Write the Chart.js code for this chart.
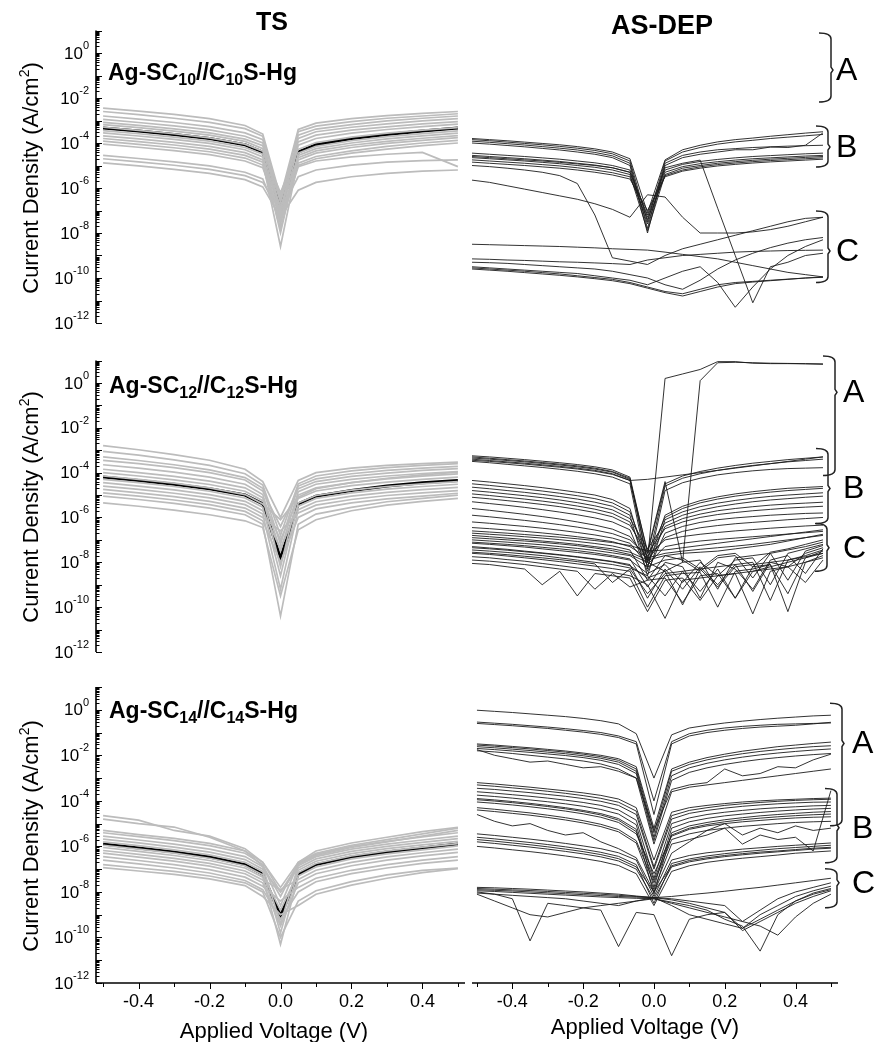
<!DOCTYPE html>
<html>
<head>
<meta charset="utf-8">
<script src="https://cdn.jsdelivr.net/npm/chart.js@4/dist/chart.umd.min.js"></script>
<style>
  html, body { margin: 0; padding: 0; background: #fff; }
  #wrap { position: relative; width: 875px; height: 1042px; overflow: hidden; background: #fff; font-family: "Liberation Sans", Arial, sans-serif; color: #000; }
  canvas { position: absolute; left: 0; top: 0; }
  .txt { position: absolute; white-space: nowrap; line-height: 1; }
  .head { font-weight: bold; font-size: 25px; transform: translateX(-50%); }
  .title { font-weight: bold; font-size: 23px; }
  .title sub { font-size: 16px; vertical-align: -5px; line-height: 0; }
  .ytitle { font-size: 22px; transform: translate(-50%, -50%) rotate(-90deg); }
  .ytitle sup { font-size: 14px; vertical-align: 9px; line-height: 0; }
  .xtitle { font-size: 22px; transform: translateX(-50%); }
</style>
</head>
<body>
<div id="wrap">
  <canvas id="c10ts" width="875" height="1042"></canvas>
  <canvas id="c10dep" width="875" height="1042"></canvas>
  <canvas id="c12ts" width="875" height="1042"></canvas>
  <canvas id="c12dep" width="875" height="1042"></canvas>
  <canvas id="c14ts" width="875" height="1042"></canvas>
  <canvas id="c14dep" width="875" height="1042"></canvas>

  <div class="txt head" style="left:272px; top:9px">TS</div>
  <div class="txt head" style="left:662px; top:12px; font-size:27px">AS-DEP</div>

  <div class="txt title" style="left:108px; top:61px">Ag-SC<sub>10</sub>//C<sub>10</sub>S-Hg</div>
  <div class="txt title" style="left:109px; top:374px">Ag-SC<sub>12</sub>//C<sub>12</sub>S-Hg</div>
  <div class="txt title" style="left:109px; top:699px">Ag-SC<sub>14</sub>//C<sub>14</sub>S-Hg</div>

  <div class="txt ytitle" style="left:31px; top:178px">Current Density (A/cm<sup>2</sup>)</div>
  <div class="txt ytitle" style="left:31px; top:507px">Current Density (A/cm<sup>2</sup>)</div>
  <div class="txt ytitle" style="left:31px; top:836px">Current Density (A/cm<sup>2</sup>)</div>

  <div class="txt xtitle" style="left:274px; top:1020px">Applied Voltage (V)</div>
  <div class="txt xtitle" style="left:645px; top:1016px">Applied Voltage (V)</div>
</div>

<script>
// bias points (V)
const voltsTS = [-0.5, -0.4, -0.3, -0.2, -0.1, -0.05, 0, 0.05, 0.1, 0.2, 0.3, 0.4, 0.5];
const voltsDep = [-0.5, -0.45, -0.4, -0.35, -0.3, -0.25, -0.2, -0.15, -0.1, -0.05, 0,
  0.05, 0.1, 0.15, 0.2, 0.25, 0.3, 0.35, 0.4, 0.45, 0.5];

// all current densities below are log10(J / A cm^-2)
const labelExps = [-12, -10, -8, -6, -4, -2, 0];
const voltTicks = [-0.5, -0.4, -0.3, -0.2, -0.1, 0, 0.1, 0.2, 0.3, 0.4, 0.5];
const voltLabels = [-0.4, -0.2, 0, 0.2, 0.4];
const braceLabels = ["A", "B", "C"];

// ---- C10, template stripped
const c10TsMean = [-3.33, -3.47, -3.62, -3.8, -4.08, -4.4, -6.9, -4.4, -4.08, -3.8, -3.62, -3.47, -3.33];
const c10TsRuns = [
  [-2.45, -2.58, -2.73, -2.92, -3.22, -3.6, -6.4, -3.4, -3.12, -2.92, -2.78, -2.68, -2.6],
  [-2.6, -2.74, -2.9, -3.08, -3.36, -3.7, -6.6, -3.5, -3.25, -3.05, -2.9, -2.8, -2.7],
  [-2.8, -2.94, -3.09, -3.27, -3.55, -3.85, -7.0, -3.65, -3.38, -3.18, -3.02, -2.9, -2.8],
  [-2.95, -3.09, -3.24, -3.42, -3.7, -4.0, -7.2, -3.8, -3.5, -3.3, -3.15, -3.02, -2.92],
  [-3.08, -3.22, -3.37, -3.55, -3.83, -4.12, -6.6, -3.95, -3.65, -3.43, -3.28, -3.15, -3.05],
  [-3.18, -3.32, -3.47, -3.65, -3.93, -4.25, -7.4, -4.1, -3.8, -3.56, -3.4, -3.27, -3.16],
  [-3.3, -3.44, -3.59, -3.77, -4.05, -4.36, -6.2, -4.28, -3.98, -3.74, -3.56, -3.43, -3.32],
  [-3.45, -3.59, -3.74, -3.92, -4.2, -4.5, -7.6, -4.45, -4.15, -3.9, -3.72, -3.58, -3.46],
  [-3.55, -3.69, -3.84, -4.02, -4.3, -4.62, -8.0, -4.55, -4.25, -4.0, -3.82, -3.68, -3.56],
  [-3.68, -3.82, -3.97, -4.15, -4.43, -4.75, -6.8, -4.65, -4.35, -4.1, -3.93, -3.79, -3.67],
  [-3.8, -3.94, -4.09, -4.27, -4.55, -4.85, -8.6, -4.75, -4.45, -4.2, -4.02, -3.88, -3.76],
  [-3.92, -4.06, -4.21, -4.39, -4.67, -4.98, -7.8, -4.9, -4.6, -4.35, -4.15, -4.0, -3.88],
  [-4.05, -4.19, -4.34, -4.52, -4.8, -5.1, -7.2, -5.0, -4.7, -4.45, -4.27, -4.12, -4.0],
  [-4.55, -4.69, -4.84, -5.02, -5.3, -5.6, -7.5, -5.05, -4.8, -4.62, -4.5, -4.42, -5.05],
  [-4.7, -4.84, -4.99, -5.17, -5.45, -5.75, -7.0, -5.5, -5.2, -4.98, -4.85, -4.78, -4.75],
  [-4.88, -5.02, -5.17, -5.35, -5.63, -5.95, -7.3, -6.1, -5.75, -5.5, -5.35, -5.25, -5.2],
];

// ---- C12, template stripped
const c12TsMean = [-4.2, -4.35, -4.52, -4.72, -5.0, -5.39, -7.8, -5.39, -5.05, -4.8, -4.6, -4.45, -4.35];
const c12TsRuns = [
  [-2.8, -2.98, -3.2, -3.45, -3.85, -4.4, -6.0, -4.35, -4.0, -3.8, -3.68, -3.6, -3.53],
  [-3.05, -3.22, -3.43, -3.68, -4.05, -4.55, -6.8, -4.5, -4.15, -3.92, -3.78, -3.68, -3.6],
  [-3.3, -3.46, -3.65, -3.88, -4.22, -4.7, -7.2, -4.6, -4.28, -4.05, -3.9, -3.8, -3.72],
  [-3.45, -3.6, -3.78, -4.0, -4.33, -4.82, -6.4, -4.72, -4.4, -4.17, -4.02, -3.9, -3.82],
  [-3.65, -3.8, -3.98, -4.2, -4.52, -4.98, -7.5, -4.85, -4.52, -4.3, -4.15, -4.04, -3.95],
  [-3.85, -4.0, -4.17, -4.38, -4.68, -5.12, -8.2, -5.0, -4.68, -4.45, -4.28, -4.16, -4.06],
  [-4.0, -4.15, -4.32, -4.53, -4.83, -5.25, -7.0, -5.15, -4.82, -4.58, -4.42, -4.3, -4.2],
  [-4.15, -4.3, -4.47, -4.68, -4.98, -5.4, -6.1, -5.1, -4.72, -4.45, -4.25, -4.1, -3.98],
  [-4.3, -4.45, -4.62, -4.83, -5.13, -5.55, -8.6, -5.35, -5.02, -4.78, -4.62, -4.5, -4.4],
  [-4.45, -4.6, -4.77, -4.98, -5.28, -5.7, -7.4, -5.5, -5.15, -4.9, -4.74, -4.62, -4.52],
  [-4.6, -4.75, -4.92, -5.13, -5.43, -5.85, -9.2, -5.65, -5.3, -5.05, -4.88, -4.76, -4.66],
  [-4.75, -4.9, -5.07, -5.28, -5.58, -6.0, -6.6, -5.8, -5.45, -5.2, -5.02, -4.9, -4.8],
  [-4.9, -5.05, -5.22, -5.43, -5.73, -6.15, -8.0, -6.0, -5.62, -5.35, -5.17, -5.05, -4.92],
  [-5.05, -5.2, -5.37, -5.58, -5.88, -6.3, -10.4, -6.3, -5.85, -5.55, -5.3, -5.15, -5.0],
  [-5.35, -5.5, -5.67, -5.88, -6.15, -6.45, -9.5, -6.55, -6.1, -5.7, -5.45, -5.28, -5.15],
];

// ---- C14, template stripped
const c14TsMean = [-5.9, -6.07, -6.25, -6.47, -6.8, -7.22, -9.05, -7.22, -6.8, -6.47, -6.25, -6.07, -5.9];
const c14TsRuns = [
  [-4.65, -4.85, -5.3, -5.55, -6.1, -6.7, -8.0, -6.8, -6.4, -6.05, -5.8, -5.55, -5.3],
  [-4.8, -5.0, -5.15, -5.6, -6.2, -6.85, -8.2, -6.7, -6.3, -5.95, -5.7, -5.45, -5.2],
  [-5.3, -5.48, -5.65, -5.87, -6.2, -6.7, -7.8, -6.7, -6.2, -5.85, -5.6, -5.35, -5.16],
  [-5.4, -5.57, -5.75, -5.97, -6.3, -6.8, -8.6, -6.75, -6.35, -6.0, -5.78, -5.58, -5.4],
  [-5.55, -5.72, -5.9, -6.12, -6.45, -6.9, -9.4, -6.85, -6.45, -6.12, -5.9, -5.72, -5.55],
  [-5.68, -5.85, -6.03, -6.25, -6.58, -7.0, -8.0, -6.95, -6.55, -6.22, -6.0, -5.82, -5.66],
  [-5.8, -5.97, -6.15, -6.37, -6.7, -7.1, -9.8, -7.05, -6.65, -6.32, -6.1, -5.93, -5.78],
  [-5.95, -6.12, -6.3, -6.52, -6.85, -7.25, -8.8, -7.15, -6.75, -6.42, -6.2, -6.03, -5.88],
  [-6.05, -6.22, -6.4, -6.62, -6.95, -7.35, -10.3, -7.3, -6.9, -6.55, -6.33, -6.15, -5.98],
  [-6.18, -6.35, -6.53, -6.75, -7.08, -7.48, -7.9, -7.45, -7.05, -6.7, -6.46, -6.28, -6.12],
  [-6.3, -6.47, -6.65, -6.87, -7.2, -7.6, -9.5, -7.6, -7.2, -6.85, -6.6, -6.42, -6.26],
  [-6.45, -6.62, -6.8, -7.02, -7.35, -7.75, -8.4, -7.8, -7.4, -7.05, -6.8, -6.6, -6.45],
  [-6.6, -6.77, -6.95, -7.17, -7.5, -7.9, -9.2, -8.0, -7.55, -7.2, -6.95, -6.75, -6.6],
  [-6.8, -6.95, -7.1, -7.3, -7.6, -8.0, -10.0, -8.4, -7.95, -7.55, -7.25, -7.05, -6.95],
  [-6.93, -7.08, -7.23, -7.43, -7.72, -8.2, -9.0, -8.6, -8.1, -7.7, -7.4, -7.15, -6.98],
];

// ---- C10, as deposited
const c10DepRuns = [
  [-3.8, -3.85, -3.9, -3.96, -4.02, -4.08, -4.16, -4.26, -4.4, -4.7, -7.1, -4.75, -4.3, -4.1, -3.95, -3.85, -3.78, -3.7, -3.63, -3.56, -3.5],
  [-3.85, -3.9, -3.96, -4.02, -4.08, -4.15, -4.23, -4.33, -4.48, -4.8, -7.5, -4.8, -4.4, -4.2, -4.05, -3.95, -3.88, -3.8, -3.74, -3.68, -3.62],
  [-3.92, -3.97, -4.03, -4.09, -4.16, -4.23, -4.31, -4.42, -4.57, -4.9, -7.8, -4.9, -4.55, -4.4, -4.3, -4.25, -4.2, -4.17, -4.14, -4.12, -4.1],
  [-4.0, -4.05, -4.11, -4.17, -4.24, -4.31, -4.4, -4.5, -4.65, -5.0, -8.0, -5.0, -4.65, -4.5, -4.4, -4.3, -4.3, -4.18, -4.2, -4.1, -3.55],
  [-4.45, -4.5, -4.55, -4.6, -4.66, -4.72, -4.8, -4.88, -5.0, -5.2, -7.3, -5.2, -4.95, -4.82, -4.73, -4.66, -4.6, -4.56, -4.52, -4.48, -4.45],
  [-4.55, -4.6, -4.65, -4.7, -4.76, -4.82, -4.9, -4.98, -5.1, -5.3, -7.6, -5.3, -5.05, -4.92, -4.83, -4.76, -4.7, -4.66, -4.62, -4.58, -4.55],
  [-4.65, -4.7, -4.75, -4.8, -4.86, -4.92, -5.0, -5.08, -5.2, -5.4, -7.9, -5.4, -5.12, -5.0, -4.9, -4.83, -4.77, -4.72, -4.68, -4.64, -4.6],
  [-4.75, -4.8, -4.85, -4.9, -4.96, -5.02, -5.1, -5.2, -5.32, -5.5, -7.4, -5.45, -5.2, -5.06, -4.96, -4.89, -4.83, -4.78, -4.74, -4.7, -4.66],
  [-4.85, -4.9, -4.95, -5.0, -5.06, -5.12, -5.2, -5.3, -5.42, -5.6, -7.0, -5.5, -5.25, -5.12, -5.02, -4.95, -4.89, -4.84, -4.8, -4.76, -4.72],
  [-4.6, -4.65, -4.7, -4.75, -4.8, -4.86, -4.93, -5.0, -5.1, -5.3, -7.2, -5.1, -4.9, -4.76, -6.9, -9.0, -11.1, -9.5, -9.3, -9.0, -8.9],
  [-5.0, -5.05, -5.12, -5.2, -5.3, -5.45, -5.8, -7.2, -9.1, -9.25, -9.4, -9.0, -8.7, -8.5, -8.3, -8.1, -7.9, -7.7, -7.5, -7.35, -7.3],
  [-5.65, -5.75, -5.9, -6.05, -6.2, -6.35, -6.5, -6.7, -6.95, -7.3, -6.3, -6.4, -7.3, -8.0, -8.0, -8.0, -7.95, -7.85, -7.7, -7.5, -7.3],
  [-8.5, -8.52, -8.54, -8.56, -8.58, -8.6, -8.63, -8.66, -8.7, -8.73, -8.76, -8.85, -8.95, -9.05, -9.15, -9.3, -9.45, -9.6, -9.75, -9.85, -9.95],
  [-9.15, -9.17, -9.2, -9.22, -9.25, -9.28, -9.3, -9.33, -9.36, -9.4, -9.2, -9.1, -9.0, -8.95, -8.9, -8.85, -8.82, -8.8, -8.78, -8.77, -8.76],
  [-9.55, -9.6, -9.65, -9.7, -9.76, -9.82, -9.9, -9.98, -10.06, -10.2, -10.4, -10.6, -10.7, -10.5, -10.3, -10.2, -10.15, -10.1, -10.05, -10.0, -9.95],
  [-9.6, -9.65, -9.7, -9.76, -9.82, -9.88, -9.95, -10.03, -10.12, -10.25, -10.45, -10.65, -10.8, -10.6, -10.4, -10.25, -10.18, -10.12, -10.06, -10.0, -9.97],
  [-9.3, -9.32, -9.35, -9.4, -9.45, -9.5, -9.55, -9.6, -9.7, -9.85, -10.0, -10.3, -10.5, -10.1, -9.6, -9.2, -8.9, -8.65, -8.45, -8.3, -8.2],
  [-9.5, -9.55, -9.6, -9.65, -9.7, -9.75, -9.8, -9.9, -10.0, -10.1, -10.3, -10.0, -9.7, -9.5, -10.2, -11.3, -10.4, -9.6, -9.0, -8.6, -8.3],
];
const c10BraceTop = [0.89, -3.24, -7.02];
const c10BraceMid = [-0.76, -4.18, -8.8];
const c10BraceBottom = [-2.18, -5.07, -10.2];

// ---- C12, as deposited
const c12DepRuns = [
  [-3.3, -3.36, -3.42, -3.48, -3.55, -3.62, -3.7, -3.8, -3.95, -4.25, -7.9, 0.2, 0.4, 0.6, 0.95, 0.95, 0.88, 0.86, 0.86, 0.85, 0.83],
  [-3.4, -3.46, -3.52, -3.58, -3.65, -3.72, -3.8, -3.9, -4.05, -4.35, -7.5, -4.4, -8.0, 0.1, 0.9, 0.92, 0.9, 0.88, 0.87, 0.86, 0.85],
  [-3.25, -3.3, -3.36, -3.42, -3.49, -3.56, -3.64, -3.74, -3.88, -4.2, -7.6, -4.5, -4.15, -3.95, -3.8, -3.68, -3.58, -3.5, -3.42, -3.36, -3.3],
  [-3.35, -3.4, -3.46, -3.52, -3.59, -3.66, -3.74, -3.84, -3.98, -4.3, -8.0, -4.6, -4.25, -4.05, -3.9, -3.78, -3.68, -3.6, -3.52, -3.46, -3.4],
  [-3.45, -3.5, -3.56, -3.62, -3.69, -3.76, -3.84, -3.94, -4.08, -4.35, -4.3, -4.2, -4.1, -4.0, -3.9, -3.8, -3.7, -3.6, -3.5, -3.4, -3.3],
  [-3.5, -3.56, -3.63, -3.7, -3.77, -3.85, -3.94, -4.05, -4.2, -4.5, -8.3, -4.8, -4.45, -4.25, -4.1, -4.0, -3.92, -3.86, -3.82, -3.8, -3.78],
  [-4.35, -4.42, -4.5, -4.58, -4.67, -4.77, -4.88, -5.0, -5.2, -5.6, -8.2, -5.9, -5.5, -5.25, -5.08, -4.95, -4.85, -4.77, -4.7, -4.66, -4.62],
  [-4.5, -4.57, -4.65, -4.73, -4.82, -4.92, -5.03, -5.16, -5.35, -5.75, -7.8, -6.0, -5.6, -5.35, -5.18, -5.05, -4.95, -4.87, -4.8, -4.75, -4.7],
  [-4.65, -4.72, -4.8, -4.88, -4.97, -5.07, -5.18, -5.32, -5.5, -5.9, -8.6, -6.1, -5.75, -5.52, -5.36, -5.24, -5.14, -5.06, -5.0, -4.95, -4.9],
  [-4.8, -4.87, -4.95, -5.03, -5.12, -5.22, -5.34, -5.48, -5.66, -6.05, -7.4, -6.25, -5.9, -5.68, -5.52, -5.4, -5.3, -5.22, -5.16, -5.1, -5.05],
  [-4.95, -5.02, -5.1, -5.18, -5.27, -5.37, -5.49, -5.63, -5.82, -6.2, -8.0, -6.4, -6.05, -5.85, -5.7, -5.6, -5.52, -5.45, -5.4, -5.36, -5.32],
  [-5.1, -5.17, -5.25, -5.33, -5.42, -5.52, -5.64, -5.78, -5.97, -6.35, -7.6, -6.5, -6.2, -6.0, -5.87, -5.78, -5.7, -5.64, -5.58, -5.54, -5.5],
  [-5.3, -5.38, -5.46, -5.55, -5.65, -5.76, -5.88, -6.02, -6.2, -6.55, -8.4, -6.7, -6.4, -6.22, -6.1, -6.02, -5.96, -5.9, -5.86, -5.82, -5.8],
  [-5.6, -5.68, -5.77, -5.86, -5.96, -6.07, -6.2, -6.34, -6.52, -6.85, -7.9, -6.9, -6.62, -6.46, -6.36, -6.28, -6.22, -6.16, -6.1, -6.05, -6.0],
  [-5.9, -5.97, -6.05, -6.13, -6.22, -6.32, -6.43, -6.56, -6.72, -7.0, -7.7, -7.0, -6.85, -6.75, -6.67, -6.6, -6.54, -6.48, -6.43, -6.38, -6.34],
  [-6.2, -6.26, -6.33, -6.4, -6.48, -6.57, -6.67, -6.78, -6.92, -7.15, -8.1, -7.3, -7.15, -7.05, -6.98, -6.92, -6.86, -6.8, -6.74, -6.68, -6.62],
  [-6.45, -6.5, -6.56, -6.62, -6.69, -6.77, -6.86, -6.96, -7.08, -7.3, -7.8, -7.6, -7.5, -7.42, -7.35, -7.28, -7.2, -7.1, -7.0, -6.9, -6.8],
  [-6.6, -6.65, -6.7, -6.76, -6.82, -6.88, -6.95, -7.03, -7.12, -7.25, -7.5, -7.45, -7.35, -7.25, -7.15, -7.05, -6.95, -6.85, -6.75, -6.65, -6.55],
  [-6.7, -6.75, -6.8, -6.86, -6.92, -6.99, -7.07, -7.16, -7.27, -7.45, -8.8, -7.7, -7.9, -8.4, -7.8, -7.7, -8.7, -7.6, -7.45, -7.3, -7.1],
  [-6.8, -6.86, -6.92, -6.98, -7.05, -7.12, -7.2, -7.3, -7.4, -7.55, -7.9, -7.7, -7.6, -7.55, -7.5, -7.4, -7.3, -7.2, -7.05, -6.9, -6.75],
  [-6.9, -6.95, -7.0, -7.05, -7.11, -7.18, -7.26, -7.36, -7.48, -7.65, -8.0, -8.4, -8.0, -7.9, -9.2, -7.8, -7.7, -7.6, -8.8, -7.5, -7.25],
  [-7.0, -7.05, -7.1, -7.16, -7.22, -7.3, -7.38, -7.47, -7.58, -7.7, -8.2, -7.9, -7.8, -8.3, -7.7, -7.6, -8.2, -7.55, -7.4, -7.2, -7.0],
  [-7.1, -7.15, -7.2, -7.26, -7.33, -7.4, -7.48, -7.58, -7.7, -7.85, -9.1, -8.0, -8.2, -9.6, -8.0, -8.3, -9.2, -7.9, -7.7, -8.5, -7.4],
  [-7.15, -7.2, -7.26, -7.32, -7.4, -7.48, -7.56, -7.65, -7.76, -7.9, -8.5, -8.1, -8.9, -8.0, -8.6, -7.9, -7.8, -9.0, -7.6, -7.4, -7.2],
  [-7.3, -7.36, -7.42, -7.5, -7.58, -7.66, -7.75, -7.85, -7.96, -8.1, -9.6, -8.3, -9.2, -8.2, -9.0, -8.1, -9.3, -8.0, -8.2, -7.6, -7.35],
  [-7.35, -7.4, -7.46, -7.53, -7.6, -7.68, -7.77, -7.87, -7.98, -8.15, -8.7, -8.4, -9.9, -8.3, -8.2, -8.1, -8.0, -9.7, -7.9, -7.7, -7.45],
  [-7.45, -7.5, -7.56, -7.63, -7.7, -7.8, -7.9, -8.0, -8.1, -8.25, -8.6, -9.5, -8.4, -9.3, -8.3, -9.6, -8.2, -8.1, -9.4, -7.8, -7.5],
  [-7.55, -7.6, -7.66, -7.73, -7.8, -7.88, -7.97, -8.07, -8.9, -8.3, -9.4, -8.5, -8.4, -8.3, -9.1, -8.2, -8.1, -8.0, -7.9, -7.75, -7.6],
  [-7.6, -7.65, -7.72, -7.8, -7.88, -7.97, -8.07, -8.17, -8.28, -8.4, -10.0, -8.6, -8.5, -8.45, -10.0, -8.4, -8.3, -8.1, -10.2, -8.0, -7.7],
  [-7.75, -7.8, -7.88, -7.95, -8.05, -8.15, -8.25, -8.35, -8.45, -8.6, -9.0, -10.5, -8.8, -8.7, -8.6, -8.5, -8.4, -8.2, -8.0, -7.8, -7.6],
  [-7.9, -7.95, -8.02, -8.1, -8.2, -8.3, -8.4, -9.2, -8.5, -9.1, -8.8, -8.7, -9.8, -8.6, -8.5, -9.6, -8.4, -8.3, -8.2, -8.0, -7.8],
  [-8.05, -8.1, -8.2, -8.3, -9.0, -8.4, -9.5, -8.5, -8.6, -8.7, -10.2, -8.8, -8.7, -9.7, -8.6, -8.5, -10.3, -8.4, -8.2, -8.9, -7.9],
];
const c12BraceTop = [1.2, -2.92, -6.27];
const c12BraceMid = [-0.42, -4.71, -7.35];
const c12BraceBottom = [-4.13, -6.27, -8.4];

// ---- C14, as deposited
const c14DepRuns = [
  [-0.02, -0.07, -0.12, -0.18, -0.24, -0.3, -0.38, -0.48, -0.62, -1.05, -3.0, -1.1, -0.8, -0.68, -0.58, -0.5, -0.43, -0.37, -0.32, -0.27, -0.24],
  [-0.54, -0.59, -0.64, -0.7, -0.76, -0.83, -0.91, -1.0, -1.15, -1.4, -4.0, -1.4, -1.05, -0.9, -0.8, -0.73, -0.68, -0.64, -0.62, -0.6, -0.58],
  [-0.6, -0.65, -0.7, -0.76, -0.82, -0.9, -0.98, -1.08, -1.22, -1.5, -4.6, -1.5, -1.15, -1.0, -0.9, -0.82, -0.76, -0.72, -0.68, -0.62, -0.55],
  [-1.5, -1.55, -1.61, -1.67, -1.74, -1.81, -1.9, -2.0, -2.15, -2.5, -5.2, -2.6, -2.3, -2.1, -1.95, -1.82, -1.72, -1.62, -1.55, -1.48, -1.42],
  [-1.55, -1.6, -1.66, -1.72, -1.79, -1.86, -1.95, -2.06, -2.22, -2.6, -5.4, -2.7, -2.4, -2.2, -2.05, -1.93, -1.83, -1.75, -1.68, -1.62, -1.58],
  [-1.62, -1.67, -1.73, -1.79, -1.86, -1.93, -2.02, -2.13, -2.3, -2.7, -5.6, -2.9, -2.55, -2.35, -2.2, -2.08, -1.98, -1.9, -1.83, -1.77, -1.72],
  [-1.7, -1.75, -1.81, -1.87, -1.94, -2.01, -2.1, -2.22, -2.4, -2.8, -5.75, -3.1, -2.75, -2.55, -2.4, -2.28, -2.18, -2.1, -2.03, -1.97, -1.92],
  [-1.75, -2.0, -2.15, -2.3, -2.25, -2.4, -2.55, -2.5, -2.7, -3.0, -5.3, -3.5, -3.3, -3.2, -2.6, -2.9, -2.8, -2.5, -2.55, -2.2, -1.95],
  [-1.8, -1.85, -1.92, -2.0, -2.08, -2.16, -2.25, -2.38, -2.6, -3.0, -5.9, -3.6, -3.4, -3.3, -3.2, -3.1, -3.0, -2.9, -2.8, -2.7, -2.6],
  [-3.2, -3.26, -3.33, -3.4, -3.48, -3.56, -3.65, -3.76, -3.92, -4.3, -6.6, -4.5, -4.3, -4.2, -4.12, -4.05, -4.0, -3.96, -3.93, -3.9, -3.88],
  [-3.3, -3.36, -3.43, -3.5, -3.58, -3.67, -3.77, -3.89, -4.06, -4.45, -6.9, -4.65, -4.42, -4.3, -4.2, -4.13, -4.07, -4.02, -3.98, -3.95, -3.93],
  [-3.45, -3.5, -3.57, -3.64, -3.72, -3.8, -3.9, -4.02, -4.2, -4.6, -7.0, -4.8, -4.55, -4.42, -4.32, -4.24, -4.18, -4.13, -4.09, -4.06, -4.05],
  [-3.6, -3.66, -3.73, -3.8, -3.88, -3.97, -4.07, -4.2, -4.4, -4.85, -7.4, -5.0, -4.75, -4.6, -4.5, -4.42, -4.35, -4.3, -4.26, -4.22, -4.2],
  [-3.75, -3.81, -3.88, -3.96, -4.04, -4.13, -4.24, -4.38, -4.58, -5.05, -7.8, -5.2, -4.92, -4.77, -4.66, -4.58, -4.51, -4.45, -4.4, -4.36, -4.33],
  [-3.9, -3.96, -4.03, -4.11, -4.2, -4.3, -4.42, -4.56, -4.78, -5.25, -8.1, -5.4, -5.1, -4.95, -4.83, -4.74, -4.66, -4.6, -4.55, -4.5, -4.47],
  [-3.95, -4.01, -4.08, -4.16, -4.25, -4.35, -4.47, -4.62, -4.85, -5.35, -7.5, -5.5, -5.2, -5.04, -4.92, -4.83, -4.76, -4.7, -4.65, -4.61, -4.58],
  [-4.05, -4.11, -4.18, -4.26, -4.35, -4.45, -4.57, -4.72, -4.95, -5.45, -7.2, -5.55, -5.25, -5.1, -5.0, -4.92, -4.86, -4.8, -4.75, -4.72, -4.7],
  [-4.3, -4.37, -4.45, -4.53, -4.63, -4.74, -4.87, -5.03, -5.26, -5.75, -7.6, -5.7, -5.45, -5.3, -5.2, -5.12, -5.06, -5.0, -4.95, -4.92, -4.9],
  [-4.4, -4.47, -4.55, -4.63, -4.73, -4.84, -4.97, -5.13, -5.36, -5.85, -7.9, -5.9, -5.7, -5.5, -5.2, -5.9, -5.5, -5.7, -5.6, -6.2, -3.55],
  [-4.6, -4.9, -5.1, -5.0, -5.3, -5.5, -5.4, -5.8, -6.1, -6.5, -8.0, -6.3, -5.8, -5.3, -5.0, -5.5, -5.2, -5.4, -5.1, -5.3, -5.2],
  [-5.45, -5.52, -5.6, -5.68, -5.77, -5.87, -5.98, -6.1, -6.28, -6.6, -8.2, -6.6, -6.4, -6.28, -6.2, -6.12, -6.06, -6.0, -5.95, -5.9, -5.85],
  [-5.6, -5.67, -5.75, -5.83, -5.92, -6.02, -6.13, -6.26, -6.44, -6.8, -8.5, -6.75, -6.55, -6.42, -6.32, -6.24, -6.17, -6.1, -6.05, -6.0, -5.95],
  [-5.7, -5.77, -5.85, -5.93, -6.02, -6.12, -6.23, -6.36, -6.54, -6.9, -8.0, -6.85, -6.62, -6.5, -6.4, -6.32, -6.25, -6.2, -6.14, -6.08, -6.04],
  [-5.8, -5.87, -5.95, -6.03, -6.12, -6.22, -6.33, -6.46, -6.64, -7.0, -8.3, -6.9, -6.68, -6.55, -6.45, -6.37, -6.3, -6.24, -6.18, -6.12, -6.08],
  [-6.0, -6.07, -6.15, -6.23, -6.32, -6.42, -6.53, -6.66, -6.84, -7.2, -8.6, -7.1, -6.85, -6.7, -6.6, -6.52, -6.45, -6.38, -6.3, -6.25, -6.2],
  [-7.8, -7.82, -7.85, -7.88, -7.92, -7.96, -8.0, -8.05, -8.1, -8.18, -8.25, -8.2, -8.12, -8.05, -7.97, -7.88, -7.8, -7.7, -7.6, -7.5, -7.4],
  [-7.85, -7.88, -7.91, -7.94, -7.98, -8.02, -8.06, -8.1, -8.15, -8.2, -8.25, -8.3, -8.4, -8.5, -8.6, -9.3, -8.8, -8.3, -8.0, -7.8, -7.6],
  [-7.9, -7.93, -7.96, -8.0, -8.04, -8.08, -8.12, -8.16, -8.2, -8.23, -8.25, -8.35, -8.5, -8.7, -8.9, -9.6, -9.0, -8.6, -8.2, -7.95, -7.75],
  [-7.95, -7.98, -8.02, -8.06, -8.1, -8.14, -8.18, -8.22, -8.25, -8.28, -8.3, -8.45, -8.6, -8.8, -9.2, -9.5, -10.6, -9.0, -8.4, -8.05, -7.85],
  [-8.0, -8.1, -8.3, -10.15, -8.5, -8.6, -8.7, -8.8, -10.4, -8.9, -9.0, -10.8, -9.2, -9.0, -8.9, -9.7, -9.3, -8.9, -8.5, -8.2, -7.95],
  [-8.05, -8.1, -8.15, -8.2, -8.25, -8.3, -8.4, -8.5, -8.6, -8.4, -8.25, -8.6, -9.0, -9.2, -9.4, -9.6, -9.2, -8.8, -8.4, -8.1, -7.9],
  [-8.1, -8.4, -8.7, -9.0, -9.1, -8.9, -8.7, -8.6, -8.5, -8.4, -8.3, -8.5, -8.7, -8.9, -9.1, -9.3, -9.5, -9.9, -9.1, -8.5, -8.1],
];
const c14BraceTop = [0.29, -3.46, -6.98];
const c14BraceMid = [-1.48, -5.18, -7.6];
const c14BraceBottom = [-5.09, -6.72, -8.7];

const GRAY = "#bcbcbc";
const INK = "#1c1c1c";
const FONT = '"Liberation Sans", Arial, sans-serif';

function toPoints(volts, logs) {
  return logs.map((e, i) => ({ x: volts[i], y: Math.pow(10, e) }));
}

function brace(ctx, xHook, xLine, top, mid, bot) {
  const r = 6;
  ctx.beginPath();
  ctx.moveTo(xHook, top);
  ctx.quadraticCurveTo(xLine, top, xLine, top + r);
  ctx.lineTo(xLine, mid - 3);
  ctx.lineTo(xLine + 2, mid);
  ctx.lineTo(xLine, mid + 3);
  ctx.lineTo(xLine, bot - r);
  ctx.quadraticCurveTo(xLine, bot, xHook, bot);
  ctx.stroke();
}

// axes, ticks and group braces drawn the way the original figure has them
const frame = {
  id: "frame",
  afterDraw(chart, args, o) {
    const { ctx, chartArea: a } = chart;
    const x = chart.scales.x;
    const y = chart.scales.y;
    ctx.save();
    ctx.strokeStyle = "#000";
    ctx.fillStyle = "#000";
    if (o.yAxis) {
      ctx.lineWidth = 1.6;
      ctx.beginPath();
      ctx.moveTo(a.left, a.top);
      ctx.lineTo(a.left, a.bottom);
      ctx.stroke();
      ctx.lineWidth = 1;
      ctx.beginPath();
      for (let e = -12; e <= 1; e++) {
        const py = Math.round(y.getPixelForValue(Math.pow(10, e))) + 0.5;
        ctx.moveTo(a.left, py);
        ctx.lineTo(a.left + 6, py);
        if (e < 1) {
          for (let m = 2; m <= 9; m++) {
            const pm = Math.round(y.getPixelForValue(m * Math.pow(10, e))) + 0.5;
            ctx.moveTo(a.left, pm);
            ctx.lineTo(a.left + 3.5, pm);
          }
        }
      }
      ctx.stroke();
      ctx.textBaseline = "middle";
      labelExps.forEach((e) => {
        const py = y.getPixelForValue(Math.pow(10, e));
        const sup = String(e);
        ctx.font = "11px " + FONT;
        const sw = ctx.measureText(sup).width;
        const right = a.left - 7;
        ctx.textAlign = "left";
        ctx.fillText(sup, right - sw, py - 7);
        ctx.font = "17px " + FONT;
        ctx.textAlign = "right";
        ctx.fillText("10", right - sw, py + 1);
      });
    }
    if (o.xAxis) {
      ctx.lineWidth = 1.6;
      ctx.beginPath();
      ctx.moveTo(a.left, a.bottom);
      ctx.lineTo(a.right, a.bottom);
      ctx.stroke();
      ctx.lineWidth = 1;
      ctx.beginPath();
      voltTicks.forEach((v) => {
        const px = Math.round(x.getPixelForValue(v)) + 0.5;
        const major = voltLabels.some((l) => Math.abs(l - v) < 1e-9);
        ctx.moveTo(px, a.bottom);
        ctx.lineTo(px, a.bottom + (major ? 6 : 4));
      });
      ctx.stroke();
      ctx.font = "18px " + FONT;
      ctx.textAlign = "center";
      ctx.textBaseline = "middle";
      voltLabels.forEach((v) => {
        ctx.fillText(v.toFixed(1), x.getPixelForValue(v), a.bottom + 19);
      });
    }
    if (o.braceTop) {
      ctx.strokeStyle = "#222";
      ctx.lineWidth = 1.5;
      ctx.font = "32px " + FONT;
      ctx.textAlign = "left";
      ctx.textBaseline = "middle";
      o.braceTop.forEach((t, i) => {
        const top = y.getPixelForValue(Math.pow(10, t));
        const mid = y.getPixelForValue(Math.pow(10, o.braceMid[i]));
        const bot = y.getPixelForValue(Math.pow(10, o.braceBottom[i]));
        brace(ctx, o.braceX[i] - 12, o.braceX[i], top, mid, bot);
        ctx.fillText(braceLabels[i], o.letterX, mid + 1);
      });
    }
    ctx.restore();
  },
};

function panel(id, volts, runs, color, width, mean, box, xMin, xMax, extra) {
  const datasets = runs.map((r) => ({
    data: toPoints(volts, r),
    borderColor: color,
    borderWidth: width,
  }));
  if (mean) {
    datasets.push({ data: toPoints(volts, mean), borderColor: "#000", borderWidth: 3 });
  }
  return new Chart(document.getElementById(id), {
    type: "line",
    data: { datasets },
    plugins: [frame],
    options: {
      responsive: false,
      animation: false,
      devicePixelRatio: 1,
      events: [],
      elements: { point: { radius: 0 }, line: { tension: 0, fill: false } },
      layout: { padding: { left: box[0], top: box[1], right: 875 - box[2], bottom: 1042 - box[3] } },
      scales: {
        x: { type: "linear", display: false, min: xMin, max: xMax },
        y: { type: "logarithmic", display: false, min: 1e-12, max: 10 },
      },
      plugins: { legend: { display: false }, tooltip: { enabled: false }, frame: extra },
    },
  });
}

panel("c10ts", voltsTS, c10TsRuns, GRAY, 1.7, c10TsMean, [96, 30.5, 465, 323], -0.52, 0.52, { yAxis: true });
panel("c12ts", voltsTS, c12TsRuns, GRAY, 1.7, c12TsMean, [96, 360.5, 465, 652], -0.52, 0.52, { yAxis: true });
panel("c14ts", voltsTS, c14TsRuns, GRAY, 1.7, c14TsMean, [96, 687, 465, 983], -0.52, 0.52, { yAxis: true, xAxis: true });

panel("c10dep", voltsDep, c10DepRuns, INK, 0.9, null, [465, 30.5, 830, 323], -0.52, 0.52,
  { braceTop: c10BraceTop, braceMid: c10BraceMid, braceBottom: c10BraceBottom, braceX: [831, 828, 828], letterX: 836 });
panel("c12dep", voltsDep, c12DepRuns, INK, 0.9, null, [465, 360.5, 830, 652], -0.52, 0.52,
  { braceTop: c12BraceTop, braceMid: c12BraceMid, braceBottom: c12BraceBottom, braceX: [835, 828, 827], letterX: 843 });
panel("c14dep", voltsDep, c14DepRuns, INK, 0.9, null, [472, 687, 838, 983], -0.514, 0.52,
  { xAxis: true, braceTop: c14BraceTop, braceMid: c14BraceMid, braceBottom: c14BraceBottom, braceX: [842, 837, 837], letterX: 852 });
</script>
</body>
</html>
